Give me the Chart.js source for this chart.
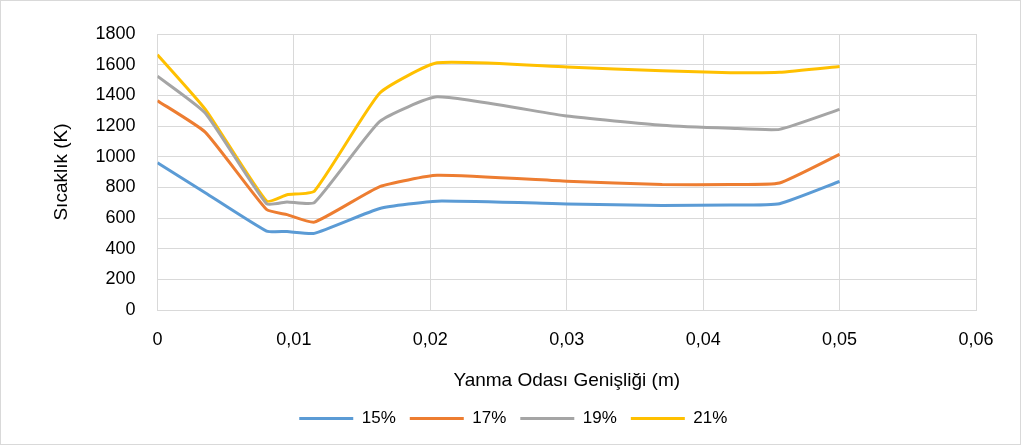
<!DOCTYPE html>
<html>
<head>
<meta charset="utf-8">
<script src="https://cdn.jsdelivr.net/npm/chart.js@4.4.1/dist/chart.umd.min.js"></script>
<style>
  html, body { margin: 0; padding: 0; background: #fff; }
  #wrap { width: 1019px; height: 443px; border: 1px solid #d9d9d9; }
</style>
</head>
<body>
<div id="wrap"><canvas id="chart" width="1019" height="443"></canvas></div>
<script>
// x positions (m) shared by all series
const widths = [0, 0.0035, 0.008, 0.0095, 0.0115, 0.0163, 0.0205, 0.03, 0.037, 0.042, 0.0456, 0.05];
const seriesNames = ["15%", "17%", "19%", "21%"];
const temp15 = [960, 765, 515, 512, 500, 662, 710, 692, 682, 684, 693, 838];
const temp17 = [1365, 1160, 655, 622, 573, 805, 878, 840, 818, 818, 828, 1015];
const temp19 = [1525, 1285, 693, 705, 700, 1230, 1390, 1265, 1205, 1185, 1178, 1308];
const temp21 = [1665, 1310, 710, 752, 775, 1415, 1612, 1585, 1560, 1548, 1550, 1588];
const colors = ["#5b9bd5", "#ed7d31", "#a5a5a5", "#ffc000"];

const allTemps = [temp15, temp17, temp19, temp21];
const FONT = "'Liberation Sans', Arial, sans-serif";

function toPoints(values) {
  return values.map((v, i) => ({ x: widths[i], y: v }));
}

const datasets = allTemps.map((vals, i) => ({
  label: seriesNames[i],
  data: toPoints(vals),
  borderColor: colors[i],
  backgroundColor: colors[i],
  borderWidth: 3,
  pointRadius: 0,
  showLine: true,
  tension: 0.15
}));

new Chart(document.getElementById("chart"), {
  type: "scatter",
  data: { datasets },
  options: {
    responsive: false,
    animation: false,
    layout: { padding: { left: 49.6, right: 44, top: 33, bottom: 7 } },
    plugins: {
      tooltip: { enabled: false },
      legend: {
        position: "bottom",
        labels: {
          color: "#000",
          font: { family: FONT, size: 17 },
          boxWidth: 54,
          boxHeight: 3,
          padding: 14,
          generateLabels: (chart) => {
            const items = Chart.defaults.plugins.legend.labels.generateLabels(chart);
            items.forEach(it => { it.lineWidth = 0; });
            return items;
          }
        }
      }
    },
    scales: {
      x: {
        type: "linear",
        min: 0,
        max: 0.06,
        ticks: {
          stepSize: 0.01,
          color: "#000",
          font: { family: FONT, size: 18 },
          padding: 18.8,
          maxRotation: 0,
          callback: (v) => v === 0 ? "0" : v.toFixed(2).replace(".", ",")
        },
        grid: { color: "#d9d9d9", drawTicks: false },
        border: { color: "#d9d9d9" },
        title: {
          display: true,
          text: "Yanma Odası Genişliği (m)",
          color: "#000",
          font: { family: FONT, size: 19 },
          padding: { top: 0, bottom: 4 }
        }
      },
      y: {
        min: 0,
        max: 1800,
        ticks: {
          stepSize: 200,
          color: "#000",
          font: { family: FONT, size: 18 },
          padding: 22,
          callback: (v) => String(v)
        },
        grid: { color: "#d9d9d9", drawTicks: false },
        border: { color: "#d9d9d9" },
        title: {
          display: true,
          text: "Sıcaklık (K)",
          color: "#000",
          font: { family: FONT, size: 19 },
          padding: { top: 0, bottom: 0 }
        }
      }
    }
  }
});
</script>
</body>
</html>
